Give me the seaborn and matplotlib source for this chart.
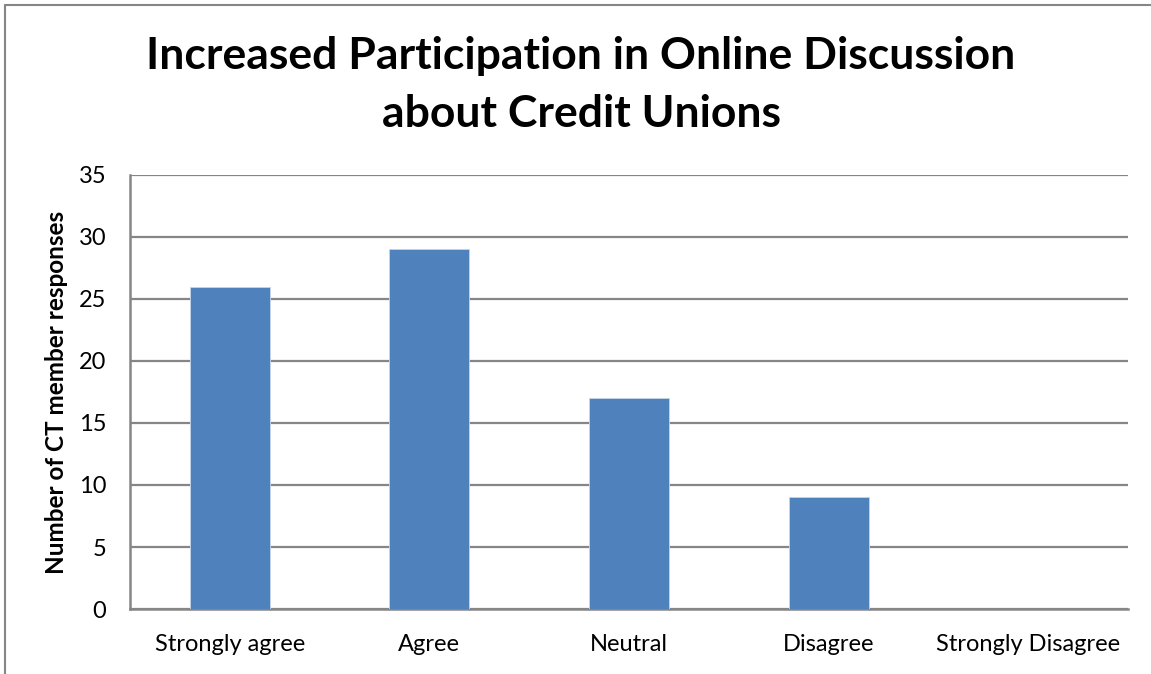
import matplotlib
matplotlib.use("Agg")
import matplotlib.pyplot as plt
import seaborn as sns
import pandas as pd
from matplotlib.lines import Line2D

categories = ["Strongly agree", "Agree", "Neutral", "Disagree", "Strongly Disagree"]
responses = [26, 29, 17, 9, 0]
y_ticks = [0, 5, 10, 15, 20, 25, 30, 35]

title = "Increased Participation in Online Discussion\nabout Credit Unions"
y_label = "Number of CT member responses"

sns.set_theme(style="white")
plt.rcParams["font.family"] = ["Lato", "DejaVu Sans"]
plt.rcParams["text.color"] = "black"

df = pd.DataFrame({"category": categories, "count": responses})

W, H = 1151, 674
fig = plt.figure(figsize=(W / 100, H / 100), dpi=100)
ax = fig.add_axes([130 / W, 1 - 609 / H, (1128 - 130) / W, (609 - 175) / H])

grid_color = "#868686"
bar_color = "#4F81BD"

sns.barplot(data=df, x="category", y="count", color=bar_color, width=0.4,
            saturation=1, edgecolor="#C5D5EA", linewidth=0.6, ax=ax, zorder=3)

ax.set_ylim(0, 35)
ax.set_xlim(-0.5, len(categories) - 0.5)
ax.set_yticks(y_ticks)
ax.set_yticklabels([str(v) for v in y_ticks], fontsize=17)
ax.tick_params(axis="x", labelsize=17, length=0, pad=18)
ax.tick_params(axis="y", length=0, pad=17)
for lbl in ax.get_xticklabels() + ax.get_yticklabels():
    lbl.set_color("black")

ax.yaxis.grid(True, color=grid_color, linewidth=1.6, zorder=0)
ax.set_axisbelow(True)
for side in ["top", "right"]:
    ax.spines[side].set_visible(False)
for side in ["left", "bottom"]:
    ax.spines[side].set_color(grid_color)
    ax.spines[side].set_linewidth(1.8)

ax.set_xlabel("")
ax.set_ylabel(y_label, fontsize=17.5, fontweight="bold", color="black")
ax.yaxis.set_label_coords(-(130 - 68) / (1128 - 130), 0.5)

fig.text(581 / W, 1 - 85 / H, title, ha="center", va="center", color="black",
         fontsize=32, fontweight="bold", linespacing=1.55)

# chart-area frame along the top and left edges
fig.add_artist(Line2D([4.5 / W, 1], [1 - 4.5 / H, 1 - 4.5 / H],
                      transform=fig.transFigure, color=grid_color, linewidth=1.5))
fig.add_artist(Line2D([4.5 / W, 4.5 / W], [0, 1 - 4.5 / H],
                      transform=fig.transFigure, color=grid_color, linewidth=1.5))

fig.savefig("out.png", dpi=100)
